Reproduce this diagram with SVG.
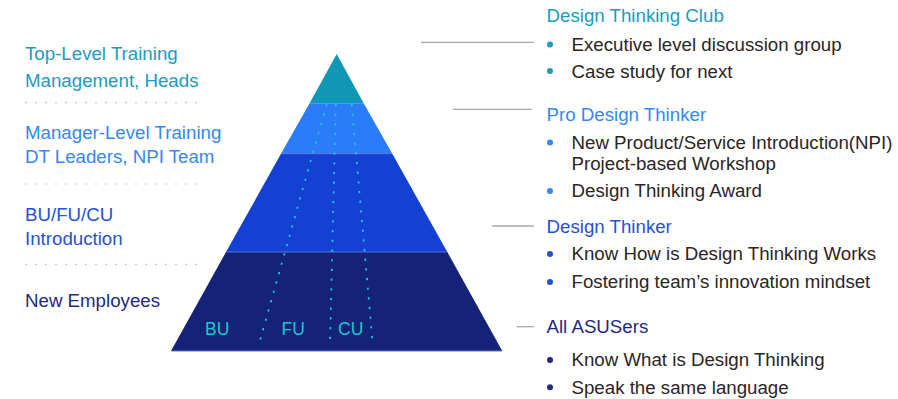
<svg xmlns="http://www.w3.org/2000/svg" width="898" height="399" viewBox="0 0 898 399">
<style>
text{font-family:"Liberation Sans",Arial,sans-serif;font-size:18.7px}
.body{fill:#2b2525}
.c1{fill:#1b9bbf}.c2{fill:#3587f4}.c3{fill:#2750d6}.c4{fill:#1f2a80}
.sep{stroke:#c9c9c9;stroke-width:1.2;stroke-dasharray:2 8;fill:none}
.conn{stroke:#a9a9a9;stroke-width:1.3;fill:none}
.dot{stroke:#18d0dc;stroke-width:1.7;stroke-dasharray:2.2 7.5;fill:none}
.edge{stroke:#5a72d6;stroke-width:1;fill:none}
.unit{fill:#19c9cc;font-size:17.5px}
</style>
<rect width="898" height="399" fill="#ffffff"/>

<g id="tier-club">
<polygon points="336.7,54 363.7,103.3 309.6,103.3" fill="#1197b6"/>
<text class="c1" x="25" y="59.5">Top-Level Training</text>
<text class="c1" x="25" y="87">Management, Heads</text>
<text class="c1" x="546.5" y="22">Design Thinking Club</text>
<circle class="c1" cx="550" cy="44.5" r="3"/>
<text class="body" x="571.5" y="51">Executive level discussion group</text>
<circle class="c1" cx="550" cy="71" r="3"/>
<text class="body" x="571.5" y="77.5">Case study for next</text>
</g>

<g id="tier-pro">
<polygon points="309.6,103.3 363.7,103.3 392.3,153.7 281,153.7" fill="#2a7cf8"/>
<text class="c2" x="25" y="138.5">Manager-Level Training</text>
<text class="c2" x="25" y="162.5">DT Leaders, NPI Team</text>
<text class="c2" x="546.5" y="120.5">Pro Design Thinker</text>
<circle class="c2" cx="550" cy="142.5" r="3"/>
<text class="body" x="571.5" y="148.5">New Product/Service Introduction(NPI)</text>
<text class="body" x="571.5" y="170">Project-based Workshop</text>
<circle class="c2" cx="550" cy="191" r="3"/>
<text class="body" x="571.5" y="197">Design Thinking Award</text>
</g>

<g id="tier-thinker">
<polygon points="281,153.7 392.3,153.7 447.3,252 226,252" fill="#1440d4"/>
<text class="c3" x="25" y="221">BU/FU/CU</text>
<text class="c3" x="25" y="245">Introduction</text>
<text class="c3" x="546.5" y="233">Design Thinker</text>
<circle class="c3" cx="550" cy="254" r="3"/>
<text class="body" x="571.5" y="260">Know How is Design Thinking Works</text>
<circle class="c3" cx="550" cy="282" r="3"/>
<text class="body" x="571.5" y="288">Fostering team’s innovation mindset</text>
</g>

<g id="tier-all">
<polygon points="226,252 447.3,252 502.3,351 171,351" fill="#142277"/>
<text class="c4" x="25" y="307">New Employees</text>
<text class="c4" x="546.5" y="333.3">All ASUSers</text>
<circle class="c4" cx="550" cy="360" r="3"/>
<text class="body" x="571.5" y="366">Know What is Design Thinking</text>
<circle class="c4" cx="550" cy="387.3" r="3"/>
<text class="body" x="571.5" y="394">Speak the same language</text>
</g>

<g id="pyramid-edges">
<line class="edge" x1="281.5" y1="153.7" x2="391.8" y2="153.7"/>
<line class="edge" x1="226.5" y1="252" x2="446.8" y2="252"/>
<line class="edge" x1="171.5" y1="351" x2="501.8" y2="351"/>
</g>

<g id="units">
<line class="dot" x1="326.7" y1="104" x2="259" y2="344"/>
<line class="dot" x1="335.8" y1="104" x2="330" y2="344"/>
<line class="dot" x1="351.7" y1="104" x2="372.7" y2="344"/>
<text class="unit" x="205" y="335">BU</text>
<text class="unit" x="281.5" y="335">FU</text>
<text class="unit" x="338" y="335">CU</text>
</g>

<g id="separators">
<line class="sep" x1="25" y1="102.7" x2="205" y2="102.7"/>
<line class="sep" x1="25" y1="184" x2="205" y2="184"/>
<line class="sep" x1="25" y1="264.3" x2="205" y2="264.3"/>
</g>

<g id="connectors">
<line class="conn" x1="421" y1="42.3" x2="534" y2="42.3"/>
<line class="conn" x1="452.7" y1="109.3" x2="531.7" y2="109.3"/>
<line class="conn" x1="492.3" y1="226" x2="534" y2="226"/>
<line class="conn" x1="516.7" y1="326.7" x2="534" y2="326.7"/>
</g>
</svg>
